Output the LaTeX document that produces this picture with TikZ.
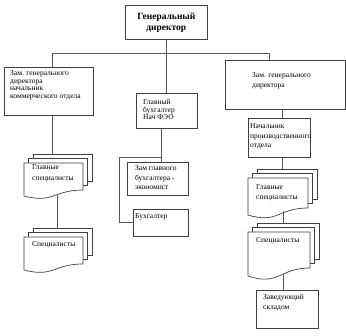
\documentclass[tikz,border=0pt]{standalone}
\usepackage{fontspec}
\setmainfont{Liberation Serif}
\newcommand\mdoc[6]{%
  \draw[sheet] ({#1+2*#6},{#2-2*#6}) rectangle ({#1+#3+2*#6},{#5-2*#6});
  \draw[sheet] ({#1+#6},{#2-#6}) rectangle ({#1+#3+#6},{#5-#6});
  \draw[sheet] (#1,#2) -- ({#1+#3},#2) -- ({#1+#3},#5)
    .. controls ({#1+0.5*#3},#5) and ({#1+0.5*#3},{#4+1.3*(#4-#5)}) .. (#1,#4) -- cycle;
}
\begin{document}
\begin{tikzpicture}[x=1pt,y=-1pt,
  box/.style={draw=black!75, fill=white, line width=0.7pt, anchor=north west, inner sep=0pt},
  txt/.style={anchor=north west, inner sep=0pt, align=left, font=\fontsize{7.5}{9.5}\selectfont},
  ln/.style={draw=black!65, line width=0.7pt},
  sheet/.style={draw=black!75, fill=white, line width=0.7pt}]
\useasboundingbox[fill=white] (0,0) rectangle (346,336);

% boxes
\node[box, minimum width=82pt, minimum height=34pt, align=center,
      font=\bfseries\fontsize{9.5}{11}\selectfont] (gd) at (125,5) {Генеральный\\директор};
\node[box, minimum width=89pt, minimum height=48pt] (b1) at (4,67) {};
\node[box, minimum width=61pt, minimum height=35pt] (b2) at (136,93) {};
\node[box, minimum width=120pt, minimum height=49pt] (b3) at (225,60) {};
\node[box, minimum width=62pt, minimum height=39pt] (b4) at (248,118) {};
\node[box, minimum width=61pt, minimum height=33pt] (b6) at (127,162) {};
\node[box, minimum width=55pt, minimum height=27pt] (b7) at (133,209) {};
\node[box, minimum width=62pt, minimum height=38pt] (b5) at (256,290) {};

% multi-documents
\mdoc{24}{163}{59}{196}{190}{4.5}
\mdoc{24}{237}{59}{270}{264}{4.5}
\mdoc{248}{178}{60}{215}{208}{4.5}
\mdoc{248}{232}{62}{276}{268}{4.5}

% texts
\node[txt, font=\fontsize{7.5}{7.5}\selectfont] (t1) at (10,70.5) {Зам. генерального\\директора\\начальник\\коммерческого отдела};
\node[txt, font=\fontsize{7.5}{7.5}\selectfont] (t2) at (143,99.5) {Главный\\бухгалтер\\Нач ФЭО};
\node[txt, font=\fontsize{7.5}{10}\selectfont] (t3) at (252,72.5) {Зам. генерального\\директора};
\node[txt] (t4) at (250,123.5) {Начальник\\производственного\\отдела};
\node[txt] (t6) at (135,165.5) {Зам главного\\бухгалтера -\\экономист};
\node[txt] (t7) at (135,213.5) {Бухгалтер};
\node[txt] (t5) at (263,294.5) {Заведующий\\складом};
\node[txt, font=\fontsize{7.5}{11}\selectfont] (t8) at (32,164.5) {Главные\\специалисты};
\node[txt] (t9) at (32,241.5) {Специалисты};
\node[txt] (t10) at (256,184.5) {Главные\\специалисты};
\node[txt] (t11) at (256,237.5) {Специалисты};

% named points
\coordinate (busL) at (52,53);
\coordinate (busR) at (269,53);
\coordinate (lgsTop) at (52,155);
\coordinate (lgsBot) at (57,194.4);
\coordinate (lspTop) at (57,229);
\coordinate (c34) at (282,109);
\coordinate (rgsTop) at (282,169);
\coordinate (rgsBot) at (283,211);
\coordinate (rspTop) at (283,223);
\coordinate (rspBot) at (283,274);
\coordinate (j) at (161,157);
\coordinate (k1) at (119,157);
\coordinate (k2) at (119,222.5);

% connectors
\draw[ln] (gd.south) -- (gd.south |- b2.north);
\draw[ln] (busL) -- (busR);
\draw[ln] (busL) -- (busL |- b1.north);
\draw[ln] (busR) -- (busR |- b3.north);
\draw[ln] (b1.south -| busL) -- (lgsTop);
\draw[ln] (lgsBot) -- (lspTop);
\draw[ln] (c34) -- (c34 |- b4.north);
\draw[ln] (b4.south -| rgsTop) -- (rgsTop);
\draw[ln] (rgsBot) -- (rspTop);
\draw[ln] (rspBot) -- (rspBot |- b5.north);
\draw[ln] (b2.south -| j) -- (j |- b6.north);
\draw[ln] (j) -- (k1) -- (k2) -- (k2 -| b7.west);
\end{tikzpicture}
\end{document}
